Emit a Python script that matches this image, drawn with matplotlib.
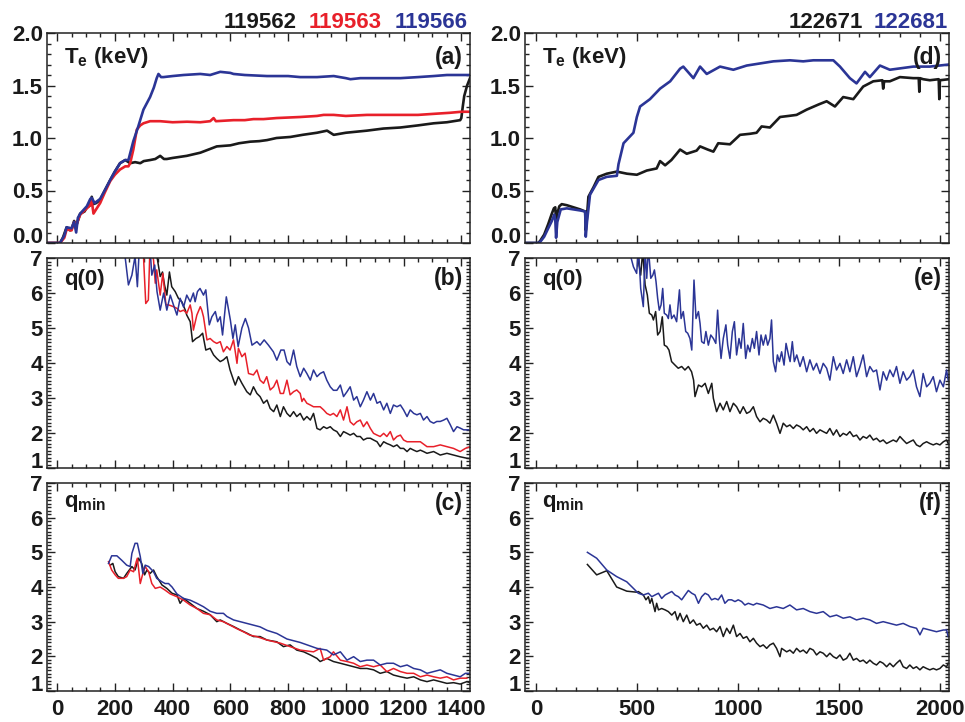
import matplotlib
matplotlib.use("Agg")
import matplotlib.pyplot as plt
from matplotlib.ticker import MultipleLocator, FixedLocator

plt.rcParams['font.family'] = ['Liberation Sans', 'DejaVu Sans']
plt.rcParams['font.weight'] = 'bold'
plt.rcParams['mathtext.default'] = 'regular'

BLACK = '#1a1a1a'
RED = '#e8202a'
BLUE = '#2b3596'

# ---------------- shot numbers ----------------
shots_left = ['119562', '119563', '119566']
shots_right = ['122671', '122681']

# ---------------- panel (a): Te, left ----------------
a_t_119562 = [-35, 10, 20, 33, 45, 50, 59, 66, 80, 95, 103, 115, 120, 125, 135, 149, 165, 184, 200, 218, 236, 253,
              270, 288, 300, 322, 340, 357, 370, 380, 400, 449, 496, 553, 600, 630, 669, 700, 727, 760, 808, 850,
              900, 935, 958, 1000, 1073, 1130, 1189, 1250, 1304, 1350, 1396, 1400, 1405, 1410, 1420, 1430]
a_te_119562 = [0.0, 0.0, 0.05, 0.15, 0.12, 0.13, 0.21, 0.16, 0.28, 0.30, 0.34, 0.36, 0.44, 0.37, 0.38, 0.41, 0.50,
               0.60, 0.68, 0.76, 0.79, 0.76, 0.77, 0.76, 0.78, 0.79, 0.80, 0.83, 0.80, 0.80, 0.81, 0.83, 0.86, 0.92,
               0.93, 0.95, 0.965, 0.97, 0.98, 1.00, 1.01, 1.03, 1.05, 1.07, 1.03, 1.05, 1.07, 1.09, 1.10, 1.12, 1.14,
               1.15, 1.17, 1.19, 1.30, 1.40, 1.50, 1.57]
a_t_119563 = [-35, 10, 25, 33, 50, 59, 66, 80, 103, 115, 120, 126, 135, 149, 165, 184, 200, 218, 236, 247, 253, 264,
              276, 288, 299, 322, 357, 400, 450, 496, 530, 542, 550, 611, 650, 680, 715, 760, 842, 900, 923, 958,
              1000, 1073, 1189, 1250, 1304, 1360, 1400, 1430]
a_te_119563 = [0.0, 0.0, 0.05, 0.13, 0.12, 0.20, 0.17, 0.27, 0.33, 0.36, 0.40, 0.28, 0.32, 0.38, 0.48, 0.59, 0.65,
               0.70, 0.73, 0.73, 0.76, 0.89, 1.08, 1.12, 1.14, 1.16, 1.16, 1.15, 1.155, 1.15, 1.16, 1.19, 1.16, 1.17,
               1.17, 1.18, 1.18, 1.19, 1.20, 1.21, 1.22, 1.22, 1.21, 1.22, 1.22, 1.22, 1.23, 1.24, 1.25, 1.25]
a_t_119566 = [-35, 10, 25, 33, 50, 59, 66, 72, 80, 103, 115, 120, 130, 149, 165, 184, 200, 218, 236, 247, 264, 280,
              299, 322, 335, 345, 351, 360, 368, 400, 438, 496, 530, 565, 600, 611, 650, 727, 800, 842, 900, 958,
              1000, 1016, 1050, 1100, 1189, 1250, 1304, 1350, 1400, 1430]
a_te_119566 = [0.0, 0.0, 0.07, 0.15, 0.14, 0.20, 0.10, 0.24, 0.28, 0.35, 0.42, 0.43, 0.38, 0.42, 0.50, 0.60, 0.68,
               0.76, 0.79, 0.79, 0.97, 1.10, 1.27, 1.39, 1.48, 1.57, 1.61, 1.58, 1.58, 1.59, 1.60, 1.61, 1.60, 1.63,
               1.62, 1.61, 1.60, 1.59, 1.59, 1.58, 1.58, 1.59, 1.57, 1.56, 1.57, 1.57, 1.57, 1.58, 1.59, 1.60, 1.60,
               1.60]

# ---------------- panel (b): q(0), left ----------------
b_t_119562 = [335, 357, 365, 372, 380, 389, 397, 409, 420, 432, 444, 449, 461, 469, 481, 492, 504, 515, 530, 542,
              553, 565, 576, 588, 599, 611, 617, 628, 640, 657, 669, 680, 692, 703, 715, 727, 738, 750, 761, 773,
              784, 796, 807, 819, 830, 842, 854, 865, 877, 888, 900, 911, 923, 934, 946, 957, 969, 981, 992, 1004,
              1015, 1027, 1038, 1050, 1061, 1073, 1085, 1096, 1108, 1119, 1131, 1142, 1154, 1165, 1177, 1189, 1200,
              1212, 1223, 1235, 1246, 1258, 1269, 1281, 1304, 1327, 1350, 1373, 1396, 1419, 1431]
b_q_119562 = [7.6, 6.47, 6.6, 6.23, 5.94, 6.6, 6.18, 6.04, 5.85, 5.75, 5.51, 5.37, 5.18, 4.61, 4.7, 4.75, 4.85, 4.37,
              4.42, 4.23, 4.13, 4.04, 4.09, 4.18, 3.8, 3.51, 3.37, 3.61, 3.42, 3.18, 3.09, 3.32, 3.13, 3.04, 2.85,
              2.94, 2.7, 2.61, 2.8, 2.47, 2.75, 2.56, 2.47, 2.61, 2.47, 2.56, 2.37, 2.47, 2.37, 2.56, 2.13, 2.09,
              2.18, 2.13, 2.18, 2.09, 2.04, 1.9, 2.04, 1.99, 1.94, 1.99, 1.9, 1.9, 1.8, 1.85, 1.85, 1.8, 1.75, 1.61,
              1.75, 1.7, 1.66, 1.61, 1.66, 1.56, 1.56, 1.47, 1.56, 1.51, 1.47, 1.51, 1.47, 1.42, 1.47, 1.37, 1.42,
              1.37, 1.32, 1.28, 1.27]
b_t_119563 = [296, 307, 316, 322, 334, 340, 345, 357, 366, 377, 386, 403, 415, 426, 438, 449, 461, 467, 472, 484,
              496, 501, 507, 519, 530, 542, 553, 565, 576, 588, 599, 611, 623, 628, 640, 651, 663, 680, 692, 703,
              715, 726, 738, 750, 761, 773, 784, 796, 807, 819, 830, 842, 848, 854, 865, 877, 888, 911, 923, 934,
              946, 957, 969, 981, 992, 1004, 1015, 1027, 1038, 1050, 1061, 1073, 1085, 1096, 1108, 1119, 1131, 1142,
              1154, 1165, 1177, 1189, 1200, 1212, 1235, 1258, 1281, 1304, 1327, 1350, 1373, 1396, 1414, 1431]
b_q_119563 = [7.6, 5.7, 5.8, 7.4, 6.94, 6.28, 6.66, 5.94, 6.56, 5.66, 5.66, 5.61, 5.56, 5.47, 5.51, 5.42, 5.66, 5.42,
              4.94, 5.37, 5.61, 5.51, 5.32, 4.66, 4.7, 4.61, 4.56, 4.61, 4.32, 4.47, 4.37, 4.66, 3.99, 4.42, 4.18,
              4.28, 3.7, 3.66, 3.8, 3.51, 3.42, 3.61, 3.23, 3.32, 3.51, 3.13, 3.13, 3.51, 3.09, 3.18, 3.23, 3.13, 2.9,
              2.99, 2.85, 2.8, 2.75, 2.75, 2.66, 2.56, 2.51, 2.56, 2.47, 2.66, 2.37, 2.75, 2.32, 2.23, 2.32, 2.37,
              2.18, 2.32, 2.13, 1.99, 1.94, 1.9, 1.99, 1.9, 2.04, 1.8, 1.9, 1.94, 1.8, 1.75, 1.75, 1.75, 1.61, 1.61,
              1.66, 1.61, 1.56, 1.47, 1.56, 1.61]
b_t_119566 = [225, 236, 247, 259, 270, 278, 286, 320, 328, 338, 346, 357, 369, 380, 392, 403, 415, 426, 438, 449,
              461, 472, 478, 486, 495, 507, 515, 527, 536, 548, 556, 565, 573, 586, 600, 609, 617, 627, 640, 652,
              663, 675, 692, 703, 717, 732, 749, 761, 775, 786, 796, 807, 819, 830, 842, 854, 865, 877, 888, 900,
              911, 923, 934, 946, 957, 969, 981, 992, 1004, 1015, 1027, 1038, 1050, 1061, 1073, 1085, 1096, 1108,
              1119, 1131, 1142, 1154, 1165, 1177, 1189, 1200, 1212, 1223, 1235, 1246, 1258, 1269, 1281, 1292, 1304,
              1315, 1327, 1339, 1350, 1362, 1373, 1385, 1396, 1408, 1425]
b_q_119566 = [7.6, 7.0, 6.23, 6.51, 7.05, 6.18, 7.5, 7.5, 6.51, 6.8, 6.04, 5.51, 6.0, 5.51, 5.94, 5.66, 5.37, 5.85,
              5.6, 5.94, 5.75, 6.0, 5.75, 6.04, 6.13, 5.94, 6.09, 5.09, 5.32, 5.47, 5.18, 5.32, 4.8, 5.89, 5.23, 4.7,
              5.09, 4.47, 5.0, 5.27, 5.0, 4.51, 4.61, 4.51, 4.66, 4.51, 4.32, 4.08, 4.37, 4.37, 4.04, 3.94, 4.37, 3.9,
              3.61, 3.85, 3.7, 3.51, 3.8, 3.61, 3.7, 3.75, 3.51, 3.32, 3.22, 3.22, 3.37, 3.04, 3.18, 3.32, 2.94, 3.04,
              2.75, 2.94, 3.18, 2.94, 3.13, 2.85, 2.9, 2.66, 2.85, 2.56, 2.8, 2.75, 2.8, 2.66, 2.47, 2.66, 2.56, 2.52,
              2.56, 2.37, 2.47, 2.33, 2.28, 2.33, 2.33, 2.37, 2.42, 2.23, 2.04, 2.18, 2.14, 2.09, 2.09]

# ---------------- panel (c): q_min, left ----------------
c_t_119562 = [184, 193, 201, 212, 230, 241, 259, 270, 282, 293, 303, 311, 322, 334, 345, 363, 380, 398, 415, 426,
              438, 461, 484, 507, 530, 553, 565, 588, 611, 634, 657, 680, 703, 727, 761, 784, 807, 830, 854, 877,
              900, 911, 934, 957, 981, 1004, 1027, 1050, 1073, 1096, 1119, 1142, 1165, 1189, 1212, 1235, 1258, 1281,
              1304, 1327, 1350, 1373, 1396, 1419, 1431]
c_q_119562 = [4.63, 4.68, 4.44, 4.3, 4.25, 4.39, 4.59, 4.49, 4.83, 4.68, 4.35, 4.49, 4.39, 4.49, 4.3, 4.06, 3.96,
              3.82, 3.77, 3.53, 3.67, 3.53, 3.38, 3.3, 3.2, 3.0, 3.05, 2.95, 2.86, 2.76, 2.67, 2.57, 2.57, 2.47,
              2.42, 2.28, 2.33, 2.18, 2.13, 2.04, 1.94, 1.85, 1.94, 1.85, 1.8, 1.75, 1.7, 1.65, 1.65, 1.61, 1.51,
              1.56, 1.46, 1.41, 1.37, 1.41, 1.32, 1.27, 1.32, 1.27, 1.22, 1.24, 1.20, 1.27, 1.24]
c_t_119563 = [178, 189, 201, 212, 230, 241, 253, 265, 274, 278, 288, 297, 305, 317, 328, 340, 357, 374, 392, 415,
              438, 461, 484, 507, 530, 553, 576, 599, 622, 645, 668, 691, 727, 773, 807, 842, 888, 911, 923, 946,
              957, 981, 1004, 1027, 1050, 1073, 1096, 1119, 1142, 1165, 1189, 1212, 1235, 1258, 1281, 1304, 1327,
              1350, 1373, 1396, 1419]
c_q_119563 = [4.73, 4.49, 4.35, 4.25, 4.25, 4.3, 4.49, 4.44, 4.73, 4.83, 4.1, 4.39, 4.59, 4.44, 4.1, 3.96, 4.0,
              3.91, 3.8, 3.72, 3.62, 3.48, 3.38, 3.24, 3.2, 3.05, 3.0, 2.9, 2.8, 2.71, 2.61, 2.57, 2.47, 2.38, 2.28,
              2.18, 2.13, 2.23, 1.89, 1.99, 2.13, 1.89, 1.85, 1.8, 1.7, 1.75, 1.7, 1.75, 1.56, 1.65, 1.56, 1.51, 1.51,
              1.41, 1.46, 1.41, 1.37, 1.41, 1.32, 1.37, 1.37]
c_t_119566 = [178, 189, 207, 224, 241, 253, 259, 270, 278, 288, 297, 305, 317, 334, 345, 363, 374, 386, 398, 415,
              438, 461, 484, 507, 530, 553, 576, 588, 611, 634, 657, 680, 703, 727, 761, 796, 842, 900, 934, 957,
              981, 1004, 1027, 1050, 1073, 1096, 1119, 1142, 1165, 1189, 1212, 1235, 1258, 1281, 1304, 1327, 1350,
              1373, 1396, 1414, 1431]
c_q_119566 = [4.68, 4.9, 4.9, 4.77, 4.63, 4.59, 4.97, 5.26, 5.26, 4.88, 4.39, 4.63, 4.59, 4.44, 4.25, 4.15, 4.1,
              4.1, 4.0, 3.8, 3.67, 3.62, 3.53, 3.43, 3.3, 3.24, 3.24, 3.15, 3.05, 3.0, 2.95, 2.9, 2.85, 2.75, 2.66,
              2.5, 2.4, 2.23, 2.18, 2.04, 2.13, 1.89, 1.99, 1.85, 1.89, 1.89, 1.75, 1.8, 1.8, 1.7, 1.75, 1.65, 1.61,
              1.51, 1.56, 1.61, 1.51, 1.46, 1.41, 1.51, 1.51]

# ---------------- panel (d): Te, right ----------------
d_t_122671 = [-55, 10, 20, 40, 60, 78, 88, 95, 99, 105, 115, 127, 152, 185, 218, 243, 246, 250, 259, 284, 309, 350,
              400, 450, 499, 548, 597, 614, 639, 670, 696, 713, 746, 795, 812, 850, 878, 902, 960, 1010, 1059, 1092,
              1117, 1158, 1208, 1250, 1290, 1340, 1400, 1439, 1480, 1521, 1571, 1620, 1670, 1715, 1719, 1724, 1752,
              1802, 1868, 1895, 1898, 1901, 1917, 1950, 1994, 1997, 2000, 2045]
d_te_122671 = [0.0, 0.0, 0.02, 0.08, 0.18, 0.28, 0.33, 0.34, 0.2, 0.28, 0.35, 0.37, 0.36, 0.34, 0.32, 0.30, 0.12, 0.2,
               0.44, 0.53, 0.63, 0.66, 0.68, 0.66, 0.65, 0.69, 0.71, 0.78, 0.74, 0.79, 0.85, 0.89, 0.85, 0.88, 0.92,
               0.89, 0.87, 0.95, 0.94, 1.03, 1.04, 1.05, 1.11, 1.10, 1.20, 1.21, 1.22, 1.27, 1.32, 1.35, 1.30, 1.39,
               1.37, 1.49, 1.54, 1.55, 1.47, 1.54, 1.54, 1.58, 1.57, 1.57, 1.44, 1.57, 1.56, 1.55, 1.56, 1.37, 1.55,
               1.56]
d_t_122681 = [-55, 10, 20, 40, 60, 78, 90, 95, 99, 105, 122, 152, 218, 243, 246, 252, 267, 309, 350, 400, 408, 433,
              482, 499, 515, 564, 614, 664, 713, 729, 779, 812, 845, 911, 977, 1043, 1109, 1175, 1257, 1323, 1373,
              1472, 1505, 1554, 1587, 1629, 1653, 1703, 1752, 1868, 1950, 2045]
d_te_122681 = [0.0, 0.0, 0.01, 0.06, 0.14, 0.21, 0.27, 0.22, 0.05, 0.2, 0.32, 0.33, 0.31, 0.30, 0.06, 0.2, 0.46, 0.6,
               0.63, 0.64, 0.75, 0.95, 1.05, 1.2, 1.3, 1.37, 1.47, 1.54, 1.66, 1.68, 1.57, 1.68, 1.61, 1.68, 1.65,
               1.69, 1.71, 1.73, 1.74, 1.73, 1.74, 1.74, 1.68, 1.57, 1.52, 1.63, 1.58, 1.69, 1.65, 1.68, 1.68, 1.70]

# ---------------- panel (e): q(0), right ----------------
e_t_122671 = [495, 507, 518, 528, 540, 551, 561, 573, 581, 592, 602, 614, 625, 635, 647, 658, 671, 688, 704, 721,
              737, 754, 770, 780, 787, 804, 820, 837, 853, 870, 878, 894, 911, 927, 944, 960, 977, 993, 1010, 1026,
              1043, 1059, 1076, 1092, 1109, 1125, 1142, 1158, 1175, 1191, 1208, 1224, 1241, 1257, 1274, 1290, 1307,
              1323, 1340, 1356, 1373, 1389, 1406, 1422, 1439, 1455, 1472, 1488, 1505, 1521, 1538, 1554, 1571, 1587,
              1604, 1620, 1637, 1653, 1670, 1686, 1703, 1719, 1736, 1769, 1785, 1802, 1818, 1835, 1851, 1868, 1884,
              1901, 1917, 1934, 1950, 1967, 1983, 2000, 2017, 2033, 2041]
e_q_122671 = [7.5, 6.9, 6.51, 7.2, 6.23, 5.94, 5.42, 5.37, 5.23, 5.47, 4.8, 4.9, 5.32, 4.51, 4.47, 4.37, 4.04, 3.94,
              3.85, 3.9, 3.8, 3.9, 3.75, 3.51, 3.04, 3.37, 3.32, 3.42, 3.13, 3.42, 2.99, 2.61, 2.85, 2.66, 2.9, 2.61,
              2.85, 2.75, 2.56, 2.75, 2.56, 2.61, 2.75, 2.47, 2.32, 2.42, 2.37, 2.28, 2.51, 2.28, 1.99, 2.28, 2.18,
              2.23, 2.13, 2.23, 2.18, 2.09, 2.18, 2.04, 2.13, 1.99, 2.09, 2.04, 1.99, 2.13, 1.94, 2.09, 1.9, 1.99,
              1.94, 2.04, 1.9, 1.94, 1.8, 1.9, 1.85, 1.94, 1.8, 1.85, 1.75, 1.8, 1.7, 1.8, 1.75, 1.9, 1.8, 1.7, 1.75,
              1.8, 1.66, 1.61, 1.7, 1.75, 1.7, 1.66, 1.7, 1.66, 1.75, 1.8, 1.7]
e_t_122681 = [460, 466, 482, 498, 507, 518, 531, 540, 548, 556, 568, 578, 586, 594, 602, 610, 619, 627, 635, 647,
              655, 663, 671, 683, 696, 710, 718, 729, 741, 751, 762, 771, 782, 792, 804, 812, 820, 832, 841, 853,
              865, 878, 890, 899, 908, 916, 927, 940, 949, 960, 972, 982, 993, 1005, 1015, 1026, 1038, 1048, 1059,
              1071, 1081, 1092, 1104, 1114, 1125, 1137, 1147, 1158, 1166, 1175, 1186, 1195, 1205, 1216, 1228, 1238,
              1250, 1258, 1269, 1279, 1291, 1307, 1323, 1340, 1356, 1373, 1389, 1406, 1422, 1439, 1455, 1472, 1488,
              1505, 1521, 1538, 1554, 1571, 1587, 1604, 1620, 1637, 1653, 1670, 1686, 1703, 1719, 1736, 1752, 1769,
              1785, 1802, 1818, 1835, 1851, 1868, 1884, 1901, 1917, 1934, 1950, 1967, 1983, 2000, 2017, 2033, 2041]
e_q_122681 = [7.4, 7.1, 6.75, 6.56, 7.3, 6.13, 5.61, 7.2, 6.42, 7.3, 6.42, 6.51, 6.66, 6.32, 5.85, 5.51, 5.66, 6.13,
              5.42, 5.37, 5.27, 5.66, 5.27, 5.37, 5.18, 6.09, 5.27, 5.47, 4.9, 4.85, 4.7, 4.37, 6.37, 5.27, 5.47,
              5.13, 4.61, 4.56, 4.9, 4.51, 4.8, 4.7, 4.56, 5.51, 4.66, 4.13, 4.7, 5.09, 4.51, 4.13, 4.9, 5.18, 4.23,
              4.7, 4.42, 5.13, 4.13, 4.51, 4.32, 4.7, 4.42, 4.9, 4.23, 4.8, 4.51, 4.8, 4.51, 4.7, 5.23, 4.04, 3.75,
              4.23, 4.04, 4.32, 3.94, 4.56, 4.23, 4.04, 4.61, 4.04, 4.23, 3.9, 4.18, 3.75, 4.09, 3.8, 3.99, 3.7,
              3.99, 3.85, 3.51, 4.18, 3.8, 3.99, 3.7, 4.09, 3.75, 4.18, 3.61, 3.9, 4.23, 3.61, 3.9, 3.75, 3.8, 3.23,
              3.75, 3.51, 3.8, 3.61, 3.9, 3.42, 3.75, 3.51, 3.61, 3.8, 3.32, 3.04, 3.7, 3.32, 3.42, 3.61, 3.18, 3.51,
              3.32, 3.8, 3.51]

# ---------------- panel (f): q_min, right ----------------
f_t_122671 = [254, 300, 350, 399, 449, 498, 506, 531, 544, 556, 564, 573, 589, 597, 606, 622, 639, 655, 672, 688,
              700, 713, 729, 746, 762, 779, 795, 812, 828, 845, 861, 878, 894, 911, 927, 944, 960, 977, 993, 1010,
              1026, 1043, 1059, 1076, 1092, 1109, 1125, 1142, 1158, 1175, 1191, 1208, 1216, 1241, 1257, 1274, 1290,
              1307, 1323, 1340, 1356, 1373, 1389, 1406, 1422, 1439, 1455, 1472, 1488, 1505, 1521, 1538, 1554, 1571,
              1587, 1604, 1620, 1637, 1653, 1670, 1686, 1703, 1719, 1736, 1752, 1769, 1785, 1802, 1818, 1835, 1851,
              1868, 1884, 1901, 1917, 1934, 1950, 1967, 1983, 2000, 2017, 2033, 2041]
f_q_122671 = [4.65, 4.35, 4.47, 4.0, 3.88, 3.85, 3.87, 3.77, 3.63, 3.72, 3.53, 3.67, 3.29, 3.53, 3.34, 3.38, 3.34,
              3.29, 3.19, 3.29, 3.05, 3.24, 3.0, 3.19, 2.95, 3.05, 2.9, 2.95, 2.81, 2.9, 2.76, 2.81, 2.71, 2.86, 2.57,
              2.81, 2.66, 2.9, 2.57, 2.66, 2.52, 2.57, 2.42, 2.52, 2.38, 2.28, 2.33, 2.23, 2.33, 2.38, 2.23, 1.99,
              2.23, 2.13, 2.18, 2.09, 2.23, 2.13, 2.18, 2.09, 2.23, 2.18, 2.04, 2.13, 2.09, 1.99, 2.09, 1.99, 1.94,
              2.04, 1.89, 1.94, 2.09, 1.89, 1.94, 1.85, 1.89, 1.8, 1.89, 1.8, 1.75, 1.85, 1.8, 1.7, 1.8, 1.7, 1.8,
              1.89, 1.7, 1.65, 1.75, 1.65, 1.7, 1.61, 1.7, 1.65, 1.61, 1.65, 1.61, 1.65, 1.75, 1.7, 1.8]
f_t_122681 = [254, 300, 350, 399, 449, 482, 506, 531, 556, 573, 589, 606, 622, 639, 655, 672, 688, 705, 721, 738,
              754, 771, 787, 804, 820, 837, 853, 869, 886, 902, 919, 935, 952, 968, 985, 1001, 1018, 1034, 1051,
              1076, 1092, 1125, 1158, 1191, 1224, 1257, 1290, 1323, 1356, 1389, 1422, 1455, 1488, 1521, 1554, 1587,
              1620, 1653, 1686, 1719, 1752, 1785, 1818, 1851, 1884, 1901, 1917, 1950, 1983, 2017, 2033, 2041]
f_q_122681 = [5.0, 4.83, 4.49, 4.3, 4.15, 3.96, 3.82, 3.77, 3.82, 3.72, 3.77, 3.82, 3.67, 3.77, 3.82, 3.87, 3.77,
              3.72, 3.63, 3.77, 3.9, 3.82, 3.77, 3.53, 3.72, 3.82, 3.77, 3.63, 3.67, 3.63, 3.77, 3.53, 3.63, 3.63,
              3.58, 3.63, 3.58, 3.48, 3.53, 3.48, 3.53, 3.48, 3.38, 3.43, 3.38, 3.48, 3.34, 3.38, 3.29, 3.24, 3.29,
              3.14, 3.19, 3.1, 3.14, 3.05, 3.1, 3.05, 2.95, 3.0, 2.95, 2.9, 2.95, 2.86, 2.81, 2.62, 2.81, 2.76, 2.71,
              2.76, 2.76, 2.57]

# ---------------- layout ----------------
W, H = 965, 722
fig = plt.figure(figsize=(W / 100, H / 100), dpi=100)

col_x = [(47, 470), (525, 949)]
row_y = [(33, 243), (258, 468), (483, 691)]


def make_ax(col, row):
    x0, x1 = col_x[col]
    y0, y1 = row_y[row]
    return fig.add_axes([x0 / W, 1 - y1 / H, (x1 - x0) / W, (y1 - y0) / H])


def style(ax, xlim, xmaj, xmin, ylim, yticks, ymin, yfmt, xlabels):
    ax.set_xlim(*xlim)
    ax.set_ylim(*ylim)
    ax.xaxis.set_major_locator(MultipleLocator(xmaj))
    ax.xaxis.set_minor_locator(MultipleLocator(xmin))
    ax.yaxis.set_major_locator(FixedLocator(yticks))
    ax.yaxis.set_minor_locator(MultipleLocator(ymin))
    ax.set_yticklabels([yfmt.format(v) for v in yticks])
    ax.tick_params(which='both', direction='in', top=True, right=True, width=1.0, color='#222222')
    ax.tick_params(which='major', length=6)
    ax.tick_params(which='minor', length=3)
    ax.tick_params(axis='y', labelsize=16, pad=3)
    ax.tick_params(axis='x', labelsize=16, pad=6, labelbottom=xlabels)
    for lab in ax.get_xticklabels() + ax.get_yticklabels():
        lab.set_fontweight('bold')
        lab.set_color('#1a1a1a')
    ax.yaxis.get_major_ticks()[0].label1.set_verticalalignment('baseline')
    for sp in ax.spines.values():
        sp.set_linewidth(1.1)
        sp.set_color('#222222')


def label(ax, left_txt, right_txt, y=0.89):
    ax.text(0.04, y, left_txt, transform=ax.transAxes, fontsize=16, fontweight='bold',
            ha='left', va='center', color='#1a1a1a')
    ax.text(0.983, y, right_txt, transform=ax.transAxes, fontsize=16.5, fontweight='bold',
            ha='right', va='center', color='#1a1a1a')


te_ticks = [0.0, 0.5, 1.0, 1.5, 2.0]
q_ticks = [1, 2, 3, 4, 5, 6, 7]
xl_left = (-35, 1430)
xl_right = (-55, 2045)

LW_TE = 1.9
LW_Q = 1.1

# left column
axa = make_ax(0, 0)
axa.plot(a_t_119562, a_te_119562, color=BLACK, lw=LW_TE)
axa.plot(a_t_119563, a_te_119563, color=RED, lw=LW_TE)
axa.plot(a_t_119566, a_te_119566, color=BLUE, lw=LW_TE)
style(axa, xl_left, 200, 50, (0, 2), te_ticks, 0.1, '{:.1f}', False)
label(axa, r'T$_{e}$ (keV)', '(a)', y=0.885)

axb = make_ax(0, 1)
axb.plot(b_t_119562, b_q_119562, color=BLACK, lw=LW_Q)
axb.plot(b_t_119563, b_q_119563, color=RED, lw=LW_Q)
axb.plot(b_t_119566, b_q_119566, color=BLUE, lw=LW_Q)
style(axb, xl_left, 200, 50, (1, 7), q_ticks, 0.1, '{:d}', False)
label(axb, 'q(0)', '(b)', y=0.9)

axc = make_ax(0, 2)
axc.plot(c_t_119562, c_q_119562, color=BLACK, lw=LW_Q)
axc.plot(c_t_119563, c_q_119563, color=RED, lw=LW_Q)
axc.plot(c_t_119566, c_q_119566, color=BLUE, lw=LW_Q)
style(axc, xl_left, 200, 50, (1, 7), q_ticks, 0.1, '{:d}', True)
label(axc, r'q$_{min}$', '(c)', y=0.9)

# right column
axd = make_ax(1, 0)
axd.plot(d_t_122671, d_te_122671, color=BLACK, lw=LW_TE)
axd.plot(d_t_122681, d_te_122681, color=BLUE, lw=LW_TE)
style(axd, xl_right, 500, 100, (0, 2), te_ticks, 0.1, '{:.1f}', False)
label(axd, r'T$_{e}$ (keV)', '(d)', y=0.885)

axe = make_ax(1, 1)
axe.plot(e_t_122671, e_q_122671, color=BLACK, lw=LW_Q)
axe.plot(e_t_122681, e_q_122681, color=BLUE, lw=LW_Q)
style(axe, xl_right, 500, 100, (1, 7), q_ticks, 0.1, '{:d}', False)
label(axe, 'q(0)', '(e)', y=0.9)

axf = make_ax(1, 2)
axf.plot(f_t_122671, f_q_122671, color=BLACK, lw=LW_Q)
axf.plot(f_t_122681, f_q_122681, color=BLUE, lw=LW_Q)
style(axf, xl_right, 500, 100, (1, 7), q_ticks, 0.1, '{:d}', True)
label(axf, r'q$_{min}$', '(f)', y=0.9)

# shot-number headers
ty = 1 - 22 / H
for txt, col, xr in zip(shots_left, [BLACK, RED, BLUE], [297, 382, 468]):
    fig.text(xr / W, ty, txt, color=col, fontsize=16, fontweight='bold', ha='right', va='center')
for txt, col, xr in zip(shots_right, [BLACK, BLUE], [863, 948]):
    fig.text(xr / W, ty, txt, color=col, fontsize=16, fontweight='bold', ha='right', va='center')

fig.savefig('out.png', dpi=100)
